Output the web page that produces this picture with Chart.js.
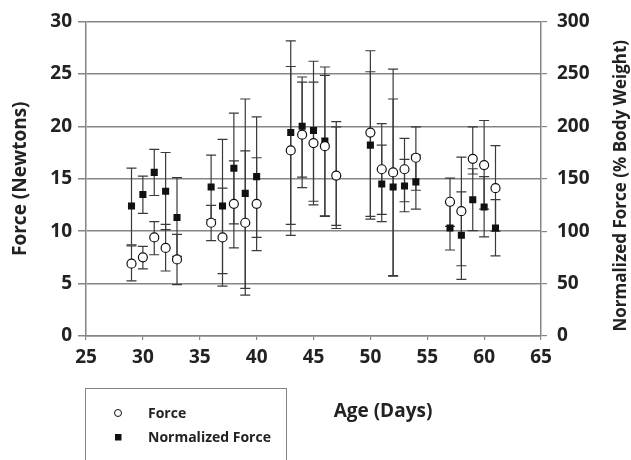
<!DOCTYPE html>
<html lang="en">
<head>
<meta charset="UTF-8">
<title>Force vs Age</title>
<script src="https://cdn.jsdelivr.net/npm/chart.js"></script>
<style>
  html, body { margin: 0; padding: 0; background: #fff; }
  canvas { display: block; }
</style>
</head>
<body>
<canvas id="chart" width="631" height="460"></canvas>
<script>
  // age of each measurement (days)
  const days = [29, 30, 31, 32, 33, 36, 37, 38, 39, 40, 43, 44, 45, 46, 47, 50, 51, 52, 53, 54, 57, 58, 59, 60, 61];

  // force in newtons (circles, left axis) with error bar ends
  const force     = [6.9, 7.5, 9.4, 8.4, 7.3, 10.8, 9.4, 12.6, 10.8, 12.6, 17.7, 19.2, 18.4, 18.1, 15.3, 19.4, 15.9, 15.6, 15.9, 17.0, 12.8, 11.9, 16.9, 16.3, 14.1];
  const forceLow  = [5.25, 6.4, 7.75, 6.2, 4.9, 9.1, 4.75, 8.4, 3.9, 8.15, 9.6, 14.15, 12.5, 11.4, 10.55, 11.4, 11.6, 5.7, 12.8, 13.9, 10.45, 6.7, 15.45, 12.1, 10.0];
  const forceHigh = [8.6, 8.55, 10.9, 10.65, 9.7, 12.45, 14.1, 16.7, 17.65, 17.0, 25.7, 24.2, 24.2, 24.85, 19.95, 27.2, 20.25, 25.45, 18.85, 19.95, 15.05, 17.05, 19.95, 20.55, 18.15];

  // normalized force, % body weight (squares, right axis) with error bar ends
  const normForce = [124, 135, 156, 138, 113, 142, 124, 160, 136, 152, 194, 200, 196, 186, 153, 182, 145, 142, 143, 147, 103, 96, 130, 123, 103];
  const normLow   = [87, 117, 134, 101.5, 76, 111, 59.5, 107, 45.5, 94, 106.5, 151.5, 128.5, 114.5, 102.5, 111.5, 109, 57.5, 118.5, 121, 82, 54, 100.5, 94.5, 76.5];
  const normHigh  = [160, 152.5, 178, 175, 151, 172.5, 187.5, 212.5, 226, 209, 281.5, 247, 262, 256.5, 204.5, 252, 182, 226, 168.5, 172.5, 127, 137.5, 159.5, 152, 130];

  const FONT = "'Open Sans', sans-serif";
  const INK = '#222';
  const GRID = '#858585';

  const errorBars = {
    id: 'errorBars',
    beforeDatasetsDraw(chart) {
      const ctx = chart.ctx;
      const xs = chart.scales.x;
      const groups = [[chart.scales.y, forceLow, forceHigh], [chart.scales.y1, normLow, normHigh]];
      ctx.save();
      ctx.strokeStyle = '#3a3a3a';
      ctx.lineWidth = 1.2;
      groups.forEach(([ys, lo, hi]) => {
        days.forEach((d, i) => {
          const px = xs.getPixelForValue(d);
          const a = ys.getPixelForValue(lo[i]);
          const b = ys.getPixelForValue(hi[i]);
          ctx.beginPath();
          ctx.moveTo(px, a); ctx.lineTo(px, b);
          ctx.moveTo(px - 5, a); ctx.lineTo(px + 5, a);
          ctx.moveTo(px - 5, b); ctx.lineTo(px + 5, b);
          ctx.stroke();
        });
      });
      ctx.restore();
    }
  };

  // axis titles and the boxed legend below the plot
  const extras = {
    id: 'extras',
    afterDraw(chart) {
      const ctx = chart.ctx;
      const area = chart.chartArea;
      const midY = (area.top + area.bottom) / 2;
      ctx.save();
      ctx.fillStyle = INK;
      ctx.font = `bold 19px ${FONT}`;
      ctx.textAlign = 'center';
      ctx.textBaseline = 'middle';

      ctx.save();
      ctx.translate(21, midY);
      ctx.rotate(-Math.PI / 2);
      ctx.fillText('Force (Newtons)', 0, 0);
      ctx.restore();

      ctx.save();
      ctx.font = `bold 17px ${FONT}`;
      ctx.translate(621, midY + 7);
      ctx.rotate(-Math.PI / 2);
      ctx.fillText('Normalized Force (% Body Weight)', 0, 0);
      ctx.restore();

      ctx.fillText('Age (Days)', 383, 412);

      // legend
      ctx.strokeStyle = GRID;
      ctx.lineWidth = 1;
      ctx.strokeRect(85.5, 388.5, 201, 90);
      ctx.textAlign = 'left';
      ctx.font = `bold 14px ${FONT}`;
      chart.data.datasets.forEach((ds, i) => {
        const y = 413 + i * 24;
        ctx.beginPath();
        if (ds.pointStyle === 'rect') {
          ctx.fillStyle = ds.backgroundColor;
          ctx.fillRect(115, y - 3, 6.5, 6.5);
        } else {
          ctx.arc(118, y, 3.5, 0, Math.PI * 2);
          ctx.fillStyle = '#fff';
          ctx.fill();
          ctx.strokeStyle = ds.borderColor;
          ctx.lineWidth = 1;
          ctx.stroke();
        }
        ctx.fillStyle = INK;
        ctx.fillText(ds.label, 148, y + 1);
      });
      ctx.restore();
    }
  };

  new Chart(document.getElementById('chart'), {
    type: 'scatter',
    data: {
      datasets: [
        {
          label: 'Force',
          data: days.map((d, i) => ({ x: d, y: force[i] })),
          yAxisID: 'y',
          pointStyle: 'circle',
          pointRadius: 4.5,
          backgroundColor: '#fff',
          borderColor: '#111',
          borderWidth: 1.2
        },
        {
          label: 'Normalized Force',
          data: days.map((d, i) => ({ x: d, y: normForce[i] })),
          yAxisID: 'y1',
          pointStyle: 'rect',
          pointRadius: 5,
          backgroundColor: '#111',
          borderColor: '#111',
          borderWidth: 0
        }
      ]
    },
    options: {
      responsive: false,
      animation: false,
      layout: { padding: { top: 16, left: 0, right: 0, bottom: 0 } },
      plugins: {
        legend: { display: false },
        tooltip: { enabled: false }
      },
      scales: {
        x: {
          type: 'linear',
          min: 25, max: 65,
          afterFit: s => { s.height = 124; },
          ticks: { stepSize: 5, color: INK, padding: 6, font: { family: FONT, size: 19, weight: 'bold' } },
          grid: { drawOnChartArea: false, color: GRID, tickLength: 4, lineWidth: 1.2 },
          border: { color: GRID, width: 1.5 }
        },
        y: {
          position: 'left',
          min: 0, max: 30,
          afterFit: s => { s.width = 86; },
          ticks: { stepSize: 5, color: INK, padding: 6, font: { family: FONT, size: 19, weight: 'bold' } },
          grid: { color: GRID, lineWidth: 1.5, tickLength: 8 },
          border: { color: GRID, width: 1.5 }
        },
        y1: {
          position: 'right',
          min: 0, max: 300,
          afterFit: s => { s.width = 90; },
          ticks: { stepSize: 50, color: INK, padding: 10, font: { family: FONT, size: 19, weight: 'bold' } },
          grid: { drawOnChartArea: false, color: GRID, lineWidth: 1.2, tickLength: 6 },
          border: { color: GRID, width: 1.5 }
        }
      }
    },
    plugins: [errorBars, extras]
  });
</script>
</body>
</html>
